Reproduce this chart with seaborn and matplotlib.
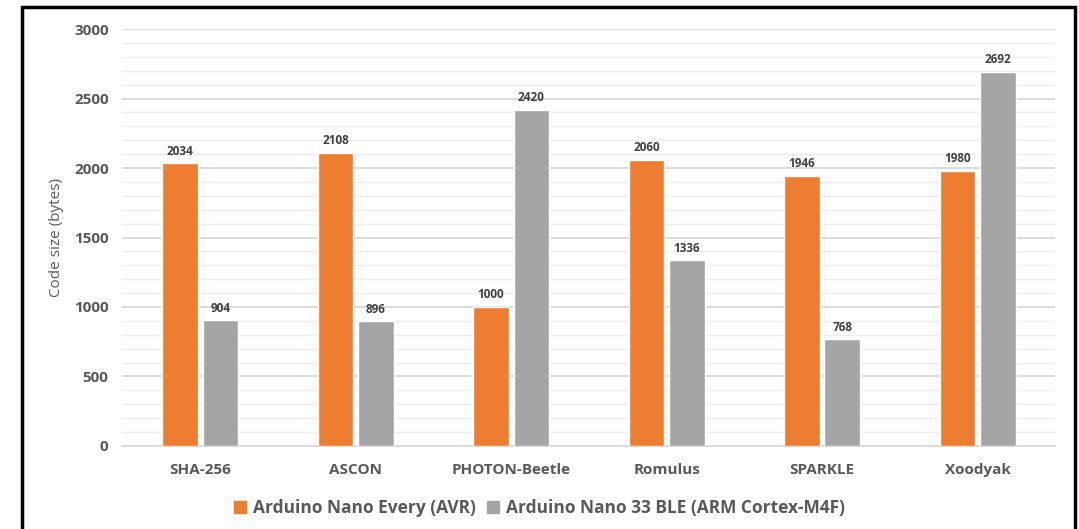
import matplotlib
matplotlib.use("Agg")
import matplotlib.pyplot as plt
import matplotlib.patches as mpatches
import seaborn as sns
import pandas as pd
from matplotlib.ticker import MultipleLocator

categories = ["SHA-256", "ASCON", "PHOTON-Beetle", "Romulus", "SPARKLE", "Xoodyak"]
avr_values = [2034, 2108, 1000, 2060, 1946, 1980]
arm_values = [904, 896, 2420, 1336, 768, 2692]
series_names = ["Arduino Nano Every (AVR)", "Arduino Nano 33 BLE (ARM Cortex-M4F)"]

df = pd.DataFrame({
    "Algorithm": categories * 2,
    "Board": [series_names[0]] * len(categories) + [series_names[1]] * len(categories),
    "Code size": avr_values + arm_values,
})

sns.set_theme(style="white")
plt.rcParams["font.family"] = ["Open Sans", "DejaVu Sans"]

fig = plt.figure(figsize=(10.79, 5.29), dpi=100)
ax = fig.add_axes([0.1135, 0.157, 0.8645, 0.788])

palette = {series_names[0]: "#ED7D31", series_names[1]: "#A5A5A5"}
sns.barplot(data=df, x="Algorithm", y="Code size", hue="Board", order=categories,
            hue_order=series_names, palette=palette, width=0.52, gap=0.12,
            saturation=1, ax=ax, legend=False, zorder=3)

ax.set_ylim(0, 3000)
ax.yaxis.set_major_locator(MultipleLocator(500))
ax.yaxis.set_minor_locator(MultipleLocator(100))
ax.grid(axis="y", which="major", color="#D9D9D9", linewidth=1.3, zorder=0)
ax.grid(axis="y", which="minor", color="#EDEDED", linewidth=1.0, zorder=0)
ax.set_axisbelow(True)
for side in ["top", "right", "left"]:
    ax.spines[side].set_visible(False)
ax.spines["bottom"].set_color("#D9D9D9")
ax.spines["bottom"].set_linewidth(1.3)
ax.tick_params(axis="both", which="both", length=0)
ax.tick_params(axis="y", pad=10, labelsize=11, labelcolor="#595959")
ax.tick_params(axis="x", pad=12, labelsize=11, labelcolor="#595959")
for lbl in ax.get_xticklabels() + ax.get_yticklabels():
    lbl.set_fontweight("bold")

ax.set_xlabel("")
ax.set_ylabel("Code size (bytes)", fontsize=11, color="#595959", labelpad=7)

for container in ax.containers:
    ax.bar_label(container, fmt="%d", padding=4, fontsize=8.5, fontweight="bold",
                 color="#404040")

handles = [mpatches.Patch(color=palette[n], label=n) for n in series_names]
fig.legend(handles=handles, loc="center", bbox_to_anchor=(0.5, 0.04), ncol=2,
           frameon=False, handlelength=0.7, handleheight=0.7, handletextpad=0.4,
           columnspacing=0.6, prop={"size": 12.5, "weight": "bold"},
           labelcolor="#595959")

border = mpatches.Rectangle((21.5 / 1079, -0.05), (1074.5 - 21.5) / 1079,
                            1.05 - 6.5 / 529, transform=fig.transFigure,
                            fill=False, edgecolor="black", linewidth=2.5)
fig.patches.append(border)

fig.savefig("out.png", dpi=100)
